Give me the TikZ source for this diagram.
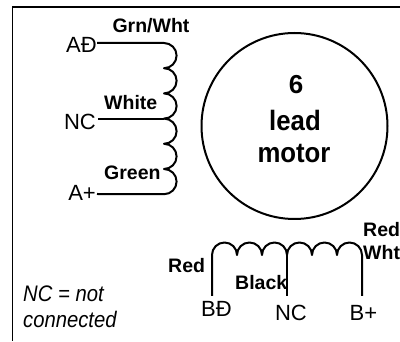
\documentclass[tikz,border=0pt]{standalone}
\usepackage{fontspec}
\setmainfont{Liberation Sans}
\newfontfamily\motorfont[FakeStretch=0.92]{Liberation Sans}
\newfontfamily\notefont[FakeStretch=0.9]{Liberation Sans}
\begin{document}
\begin{tikzpicture}[x=1pt,y=1pt,
  wire/.style={line width=2pt,line cap=butt,line join=round},
  lbl/.style={inner sep=0pt,font=\fontsize{19.5}{22}\selectfont\bfseries},
  term/.style={inner sep=0pt,font=\fontsize{22}{24}\selectfont},
  note/.style={inner sep=0pt,font=\notefont\fontsize{22.5}{25}\selectfont\itshape},
  motortxt/.style={inner sep=0pt,font=\motorfont\fontsize{28}{30}\selectfont\bfseries},
  sixtxt/.style={inner sep=0pt,font=\fontsize{26}{28}\selectfont\bfseries}]
\useasboundingbox (0,0) rectangle (400,-342);
% frame
\coordinate (fl) at (12.5,-341);
\coordinate (ftl) at (12.5,-7);
\coordinate (fr) at (400,-7);
\draw[line width=1.6pt] (fl) -- (ftl) -- (fr);
% motor
\node[circle,draw,line width=2pt,minimum size=186pt,inner sep=0pt] (motor) at (294.5,-126) {};
\node[sixtxt,anchor=base] (t6) at (296,-94) {6};
\node[motortxt,anchor=base] (tlead) at (295,-131) {lead};
\node[motortxt,anchor=base] (tmotor) at (294,-163) {motor};
% left coil
\coordinate (aminus) at (97,-43);
\coordinate (ctop) at (164,-43);
\coordinate (ncA) at (98,-119);
\coordinate (ncAc) at (164,-119);
\coordinate (aplus) at (97,-194);
\draw[wire] (aminus) -- (ctop)
  arc(90:-90:12.6) arc(90:-90:12.6) arc(90:-90:12.6)
  arc(90:-90:12.6) arc(90:-90:12.6) arc(90:-90:12.6) -- (aplus);
\draw[wire] (ncA) -- (ncAc);
\node[term,anchor=base east] (lAm) at (97,-53) {AĐ};
\node[term,anchor=base east] (lNCa) at (96,-130) {NC};
\node[term,anchor=base east] (lAp) at (96,-201) {A+};
\node[lbl,anchor=base] (lGW) at (151,-33) {Grn/Wht};
\node[lbl,anchor=base west] (lW) at (104,-109.5) {White};
\node[lbl,anchor=base west] (lG) at (104,-180) {Green};
% bottom coil
\coordinate (bminus) at (212,-296);
\coordinate (bstart) at (212,-255);
\coordinate (ncB) at (287,-296);
\coordinate (ncBc) at (287,-255);
\coordinate (bplus) at (362,-296);
\draw[wire] (bminus) -- (bstart)
  arc(180:0:12.5) arc(180:0:12.5) arc(180:0:12.5)
  arc(180:0:12.5) arc(180:0:12.5) arc(180:0:12.5) -- (bplus);
\draw[wire] (ncBc) -- (ncB);
\node[term,anchor=base] (lBm) at (216.5,-317) {BĐ};
\node[term,anchor=base] (lNCb) at (291,-321) {NC};
\node[term,anchor=base] (lBp) at (363.5,-321) {B+};
\node[lbl,anchor=base west] (lR) at (168,-273) {Red};
\node[lbl,anchor=base west] (lB) at (235,-290) {Black};
\node[lbl,anchor=base west] (lRW1) at (363,-237) {Red};
\node[lbl,anchor=base west] (lRW2) at (363,-260) {Wht};
% note
\node[note,anchor=base west] (n1) at (23,-302) {NC = not};
\node[note,anchor=base west] (n2) at (23,-328) {connected};
\end{tikzpicture}
\end{document}
